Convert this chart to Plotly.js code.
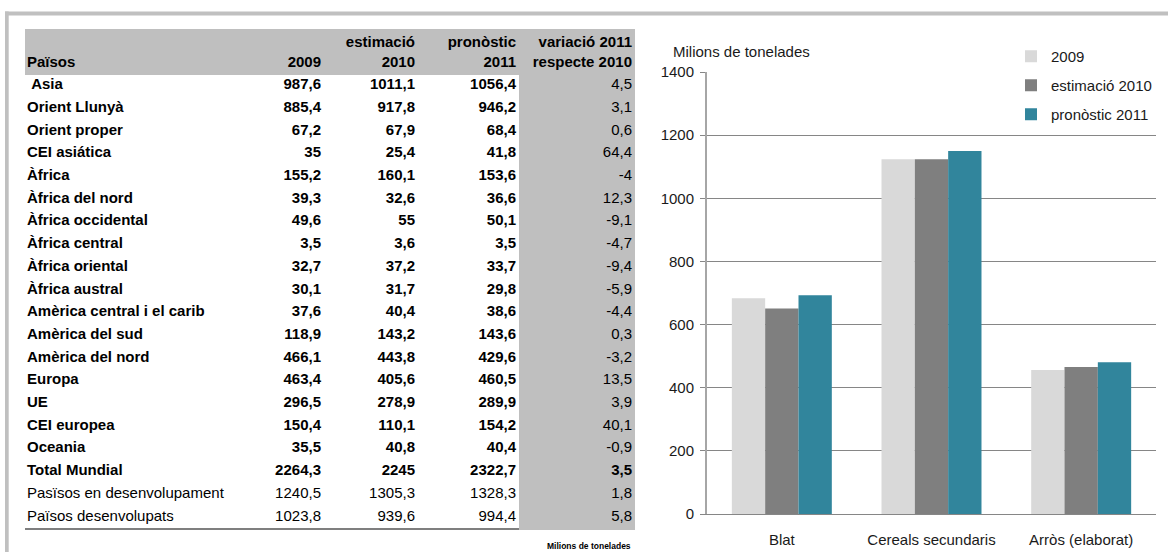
<!DOCTYPE html>
<html><head><meta charset="utf-8">
<script src="https://cdn.plot.ly/plotly-3.0.1.min.js"></script>
<style>html,body{margin:0;padding:0;background:#fff;}#chart{width:1168px;height:552px;}</style>
</head><body><div id="chart"></div>
<script>
// ---- table data ----
const regions = ['\u00a0Asia','Orient Llunyà','Orient proper','CEI asiática','Àfrica','Àfrica del nord','Àfrica occidental','Àfrica central','Àfrica oriental','Àfrica austral','Amèrica central i el carib','Amèrica del sud','Amèrica del nord','Europa','UE','CEI europea','Oceania','Total Mundial','Pasïsos en desenvolupament','Països desenvolupats'];
const prod2009 = [987.6,885.4,67.2,35,155.2,39.3,49.6,3.5,32.7,30.1,37.6,118.9,466.1,463.4,296.5,150.4,35.5,2264.3,1240.5,1023.8];
const est2010 = [1011.1,917.8,67.9,25.4,160.1,32.6,55,3.6,37.2,31.7,40.4,143.2,443.8,405.6,278.9,110.1,40.8,2245,1305.3,939.6];
const prog2011 = [1056.4,946.2,68.4,41.8,153.6,36.6,50.1,3.5,33.7,29.8,38.6,143.6,429.6,460.5,289.9,154.2,40.4,2322.7,1328.3,994.4];
const var2011 = [4.5,3.1,0.6,64.4,-4,12.3,-9.1,-4.7,-9.4,-5.9,-4.4,0.3,-3.2,13.5,3.9,40.1,-0.9,3.5,1.8,5.8];
const tableHeaders = ['Països','2009','estimació<br>2010','pronòstic<br>2011','variació 2011<br>respecte 2010'];
const tableNote = 'Milions de tonelades';

// ---- chart data ----
const crops = ['Blat','Cereals secundaris','Arròs (elaborat)'];
const seriesNames = ['2009','estimació 2010','pronòstic 2011'];
const crop2009 = [683,1124,456];
const crop2010 = [651,1124,466];
const crop2011 = [693,1150,481];
const yTitle = 'Milions de tonelades';

// ---- helpers / layout constants ----
const W = 1168, H = 552;
const px = v => v / W;
const py = v => 1 - v / H;
const fmt = v => String(v).replace('.', ',');
const FONT = 'Liberation Sans, Arial, sans-serif';

// table geometry (pixels)
const ROW0 = 85.5, PITCH = 22.7;              // centre of first body row, row pitch
const rowAt = p => (p - ROW0) / PITCH;        // pixel -> row units
const colAnchor = [27, 321, 415, 516, 632];   // label left edge, numeric right edges
const colAlign = ['middle right', 'middle left', 'middle left', 'middle left', 'middle left'];
const HEAD_ONE = rowAt(63);                   // single-line header (bottom line)
const HEAD_TWO = rowAt(53);                   // centre of two-line header

const totalIdx = regions.indexOf('Total Mundial');
const b = (s, on) => on ? '<b>' + s + '</b>' : s;
const rowIdx = regions.map((_, i) => i);

const columns = [
  regions.map((r, i) => b(r, i <= totalIdx)),
  prod2009.map((v, i) => b(fmt(v), i <= totalIdx)),
  est2010.map((v, i) => b(fmt(v), i <= totalIdx)),
  prog2011.map((v, i) => b(fmt(v), i <= totalIdx)),
  var2011.map((v, i) => b(fmt(v), i === totalIdx))
];

const tableTraces = columns.map((cells, c) => {
  const head = tableHeaders[c];
  const headY = head.indexOf('<br>') >= 0 ? HEAD_TWO : HEAD_ONE;
  return {
    type: 'scatter', mode: 'text',
    x: [colAnchor[c]].concat(rowIdx.map(() => colAnchor[c])),
    y: [headY].concat(rowIdx),
    text: ['<b>' + head + '</b>'].concat(cells),
    textposition: colAlign[c],
    textfont: {family: FONT, size: 15, color: '#000'},
    xaxis: 'x2', yaxis: 'y2',
    showlegend: false, hoverinfo: 'skip', cliponaxis: false
  };
});

const colors = ['#d9d9d9', '#7f7f7f', '#31859c'];
const bars = [crop2009, crop2010, crop2011].map((vals, i) => ({
  type: 'bar',
  x: crops,
  y: vals,
  name: seriesNames[i],
  legendgroup: 'g' + i,
  marker: {color: colors[i], line: {width: 0}},
  xaxis: 'x', yaxis: 'y',
  hoverinfo: 'skip'
}));

const layout = {
  width: W, height: H,
  margin: {l: 0, r: 0, t: 0, b: 0},
  paper_bgcolor: '#fff', plot_bgcolor: 'rgba(0,0,0,0)',
  font: {family: FONT, size: 15, color: '#1a1a1a'},
  barmode: 'group',
  bargap: 0.332,
  bargroupgap: 0,
  xaxis: {
    domain: [px(707), px(1156)],
    anchor: 'y',
    showline: true, linecolor: '#868686', linewidth: 1,
    ticks: '', showgrid: false,
    ticklabelstandoff: 12,
    tickfont: {family: FONT, size: 15, color: '#1a1a1a'},
    fixedrange: true
  },
  yaxis: {
    domain: [1 - 514 / H, 1 - 72 / H],
    anchor: 'x',
    range: [0, 1400], dtick: 200, tick0: 0,
    showline: true, linecolor: '#a6a6a6', linewidth: 2,
    ticks: 'outside', ticklen: 5, tickcolor: '#868686', tickwidth: 1,
    ticklabelstandoff: 3,
    showgrid: true, gridcolor: '#868686', gridwidth: 1,
    zeroline: false,
    tickfont: {family: FONT, size: 15, color: '#1a1a1a'},
    fixedrange: true
  },
  xaxis2: {domain: [0, 1], range: [0, W], visible: false, anchor: 'y2', fixedrange: true},
  yaxis2: {domain: [0, 1], range: [rowAt(H), rowAt(0)], visible: false, anchor: 'x2', fixedrange: true},
  showlegend: true,
  legend: {
    x: px(1011), y: py(40), xanchor: 'left', yanchor: 'top',
    bgcolor: 'rgba(0,0,0,0)', borderwidth: 0,
    tracegroupgap: 6.5,
    font: {family: FONT, size: 15, color: '#1a1a1a'}
  },
  annotations: [
    {xref: 'paper', yref: 'paper', x: px(671), y: py(52), xanchor: 'left', yanchor: 'middle',
     text: yTitle, showarrow: false, font: {family: FONT, size: 15, color: '#1a1a1a'}},
    {xref: 'paper', yref: 'paper', x: px(633), y: py(546), xanchor: 'right', yanchor: 'middle',
     text: '<b>' + tableNote + '</b>', showarrow: false, font: {family: FONT, size: 8.5, color: '#000'}}
  ],
  shapes: [
    {type: 'rect', xref: 'paper', yref: 'paper', x0: px(5), x1: px(1168), y0: py(15.5), y1: py(11.5), fillcolor: '#c0c0c0', line: {width: 0}, layer: 'below'},
    {type: 'rect', xref: 'paper', yref: 'paper', x0: px(5), x1: px(8.7), y0: py(552), y1: py(11.5), fillcolor: '#c0c0c0', line: {width: 0}, layer: 'below'},
    {type: 'rect', xref: 'paper', yref: 'paper', x0: px(25), x1: px(635), y0: py(75), y1: py(29), fillcolor: '#bfbfbf', line: {width: 0}, layer: 'below'},
    {type: 'rect', xref: 'paper', yref: 'paper', x0: px(519), x1: px(635), y0: py(530), y1: py(75), fillcolor: '#bfbfbf', line: {width: 0}, layer: 'below'},
    {type: 'line', xref: 'paper', yref: 'paper', x0: px(25), x1: px(519), y0: py(529), y1: py(529), line: {color: '#7f7f7f', width: 2}, layer: 'below'},
    {type: 'rect', xref: 'paper', yref: 'paper', x0: px(1030), x1: px(1160), y0: py(78), y1: py(66), fillcolor: '#fff', line: {width: 0}, layer: 'above'}
  ]
};

Plotly.newPlot('chart', tableTraces.concat(bars), layout, {displayModeBar: false, staticPlot: true});
</script>
</body></html>
